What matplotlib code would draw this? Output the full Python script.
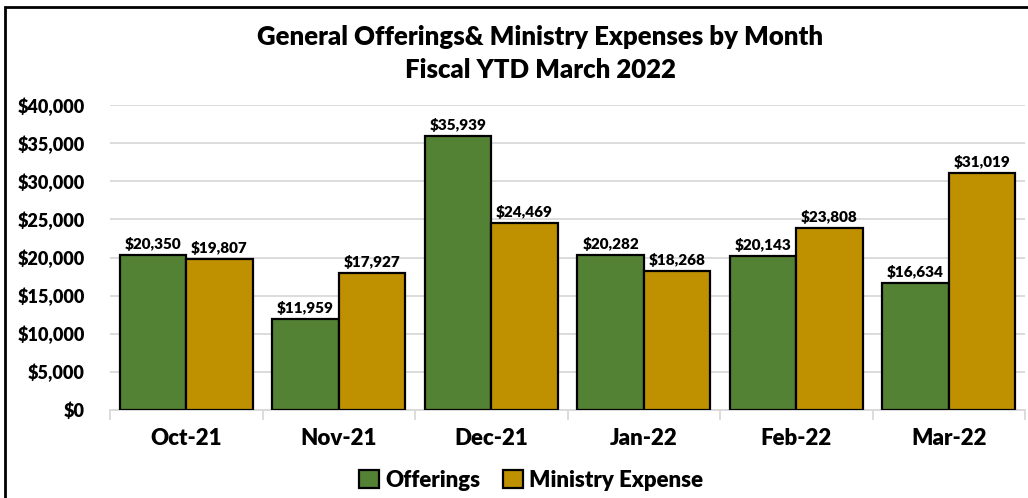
import matplotlib.pyplot as plt
import numpy as np
from matplotlib.patches import Rectangle
from matplotlib.ticker import FuncFormatter

plt.rcParams['font.family'] = ['Lato', 'DejaVu Sans']
plt.rcParams['font.weight'] = 'heavy'

months = ["Oct-21", "Nov-21", "Dec-21", "Jan-22", "Feb-22", "Mar-22"]
offerings = [20350, 11959, 35939, 20282, 20143, 16634]
ministry_expense = [19807, 17927, 24469, 18268, 23808, 31019]

GREEN = "#548235"
GOLD = "#bf9000"
WT = "heavy"

fig = plt.figure(figsize=(10.28, 4.98), dpi=100)
ax = fig.add_axes([110 / 1028, 1 - 410 / 498, 915 / 1028, 305 / 498])

x = np.arange(len(months))
w = 0.435
b1 = ax.bar(x - w / 2, offerings, w, color=GREEN, edgecolor="black",
            linewidth=1.6, label="Offerings", zorder=3)
b2 = ax.bar(x + w / 2, ministry_expense, w, color=GOLD, edgecolor="black",
            linewidth=1.6, label="Ministry Expense", zorder=3)

for bars in (b1, b2):
    ax.bar_label(bars, labels=[f"${v:,.0f}" for v in bars.datavalues],
                 padding=3, fontsize=11, fontweight=WT)

ax.set_xlim(-0.5, len(months) - 0.5)
ax.set_ylim(0, 40000)
ax.set_yticks(np.arange(0, 40001, 5000))
ax.yaxis.set_major_formatter(FuncFormatter(lambda v, p: f"${v:,.0f}"))
ax.grid(axis="y", color="#d9d9d9", linewidth=1.3, zorder=0)
ax.set_axisbelow(True)

ax.set_xticks(x)
ax.set_xticklabels(months, fontweight=WT)
ax.set_xticks(np.arange(-0.5, len(months), 1), minor=True)
ax.tick_params(axis="x", which="major", length=0, pad=13, labelsize=16)
ax.tick_params(axis="x", which="minor", length=7, color="#d9d9d9", width=1.3)
ax.tick_params(axis="y", length=0, pad=18, labelsize=13)
for t in ax.get_yticklabels():
    t.set_fontweight(WT)

for s in ("top", "right", "left"):
    ax.spines[s].set_visible(False)
ax.spines["bottom"].set_color("#d9d9d9")
ax.spines["bottom"].set_linewidth(1.3)

# the chart area extends past the right edge, so the title sits right of centre
fig.text(540 / 1028, 1 - 37 / 498, "General Offerings& Ministry Expenses by Month",
         ha="center", va="center", fontsize=18.5, fontweight=WT)
fig.text(540 / 1028, 1 - 70 / 498, "Fiscal YTD March 2022",
         ha="center", va="center", fontsize=18.5, fontweight=WT)

leg = fig.legend(handles=[b1, b2], loc="center",
                 bbox_to_anchor=(531 / 1028, 1 - 480 / 498),
                 ncol=2, frameon=False, fontsize=16, handlelength=0.9,
                 handleheight=0.9, handletextpad=0.3, columnspacing=1.0)
for t in leg.get_texts():
    t.set_fontweight(WT)

fig.patches.append(Rectangle((5 / 1028, -0.05), 1.1, 1 - 7 / 498 + 0.05,
                             transform=fig.transFigure, fill=False,
                             edgecolor="black", linewidth=2, zorder=10))

fig.savefig("out.png", dpi=100)
